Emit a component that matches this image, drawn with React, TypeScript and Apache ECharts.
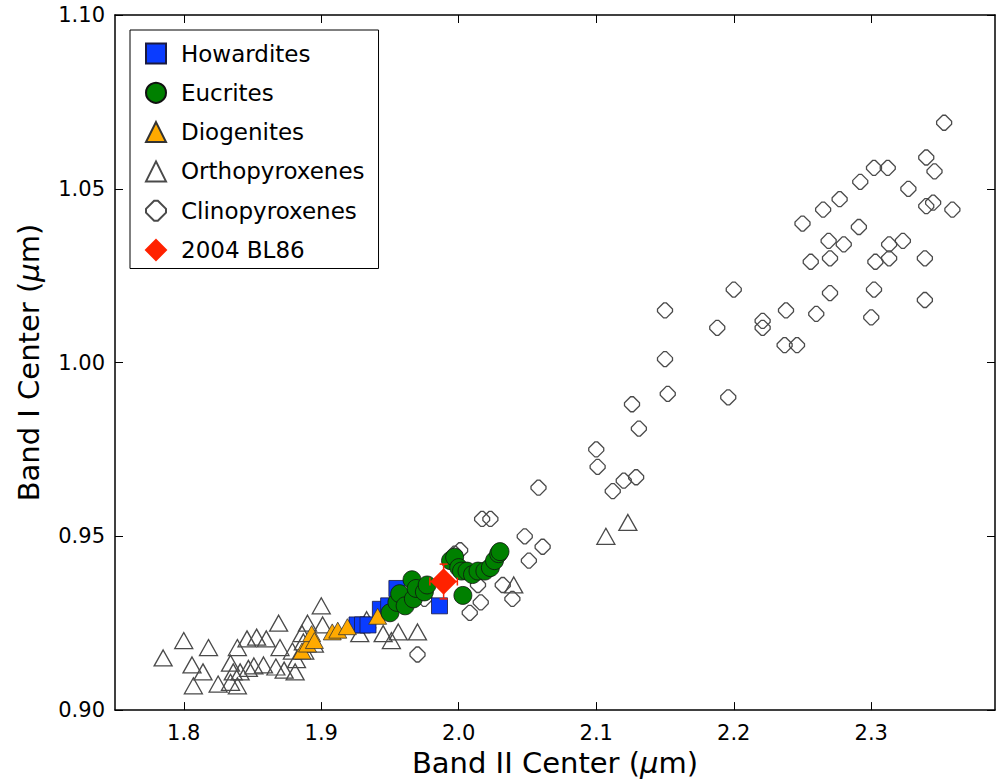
import React, { useEffect, useRef } from "react";
import * as echarts from "echarts";

const X_TICKS = [1.8, 1.9, 2.0, 2.1, 2.2, 2.3];
const Y_TICKS = [0.9, 0.95, 1.0, 1.05, 1.1];

const HOWARDITES: number[][] = [
  [1.926, 0.9245], [1.930, 0.9245], [1.934, 0.9245], [1.943, 0.929],
  [1.949, 0.930], [1.955, 0.935], [1.986, 0.930],
];

const EUCRITES: number[][] = [
  [1.950, 0.928], [1.955, 0.931], [1.957, 0.9335], [1.961, 0.930],
  [1.966, 0.9375], [1.967, 0.932], [1.969, 0.935], [1.975, 0.934],
  [1.977, 0.936], [1.994, 0.943], [1.997, 0.944], [2.000, 0.941],
  [2.002, 0.940], [2.003, 0.933], [2.006, 0.940], [2.010, 0.939],
  [2.014, 0.940], [2.019, 0.940], [2.023, 0.941], [2.026, 0.943],
  [2.029, 0.945], [2.030, 0.9456],
];

const DIOGENITES: number[][] = [
  [1.886, 0.917], [1.890, 0.919], [1.893, 0.922], [1.895, 0.920],
  [1.908, 0.9225], [1.912, 0.923], [1.919, 0.924], [1.941, 0.927],
];

const ORTHOPYROXENES: number[][] = [
  [1.785, 0.915], [1.800, 0.920], [1.806, 0.913], [1.807, 0.907],
  [1.814, 0.911], [1.818, 0.918], [1.825, 0.9075], [1.834, 0.9135],
  [1.836, 0.911], [1.834, 0.908], [1.839, 0.918], [1.839, 0.907],
  [1.841, 0.911], [1.846, 0.9205], [1.853, 0.921], [1.860, 0.9205],
  [1.847, 0.912], [1.851, 0.9127], [1.858, 0.913], [1.869, 0.925],
  [1.870, 0.918], [1.867, 0.9124], [1.873, 0.9115], [1.881, 0.911],
  [1.879, 0.917], [1.887, 0.9196], [1.890, 0.925], [1.900, 0.930],
  [1.901, 0.9245], [1.882, 0.9145], [1.888, 0.917], [1.895, 0.919],
  [1.886, 0.922], [1.928, 0.922], [1.933, 0.926], [1.945, 0.922],
  [1.951, 0.920], [1.956, 0.9225], [1.970, 0.9225], [2.040, 0.936],
  [2.107, 0.950], [2.123, 0.954],
];

const CLINOPYROXENES: number[][] = [
  [1.970, 0.916], [1.975, 0.932], [1.997, 0.945], [2.001, 0.946],
  [2.008, 0.928], [2.014, 0.936], [2.016, 0.931], [2.017, 0.955],
  [2.023, 0.955], [2.032, 0.936], [2.039, 0.932], [2.048, 0.950],
  [2.051, 0.943], [2.061, 0.947], [2.058, 0.964], [2.100, 0.975],
  [2.101, 0.970], [2.112, 0.963], [2.120, 0.966], [2.129, 0.967],
  [2.126, 0.988], [2.131, 0.981], [2.150, 1.015], [2.150, 1.001],
  [2.152, 0.991], [2.188, 1.010], [2.196, 0.990], [2.200, 1.021],
  [2.221, 1.012], [2.221, 1.010], [2.238, 1.015], [2.237, 1.005],
  [2.246, 1.005], [2.260, 1.014], [2.270, 1.020], [2.300, 1.013],
  [2.302, 1.021], [2.339, 1.018], [2.256, 1.029], [2.270, 1.030],
  [2.303, 1.029], [2.313, 1.030], [2.339, 1.030], [2.269, 1.035],
  [2.280, 1.034], [2.313, 1.034], [2.323, 1.035], [2.291, 1.039],
  [2.250, 1.040], [2.265, 1.044], [2.277, 1.047], [2.292, 1.052],
  [2.302, 1.056], [2.312, 1.056], [2.327, 1.050], [2.340, 1.045],
  [2.345, 1.046], [2.359, 1.044], [2.340, 1.059], [2.346, 1.055],
  [2.353, 1.069],
];

const BL86: number[][] = [[1.989, 0.937]];
const BL86_ERR: number[][] = [[1.989, 0.937, 0.01, 0.005]];

const BLUNT_DIAMOND =
  "path://M-0.16,-0.85 L0.16,-0.85 L0.85,-0.16 L0.85,0.16 L0.16,0.85 L-0.16,0.85 L-0.85,0.16 L-0.85,-0.16 Z";
const FONT = "DejaVu Sans";

export default function App() {
  const ref = useRef<HTMLDivElement>(null);
  useEffect(() => {
    if (!ref.current) return;
    const chart = echarts.init(ref.current, undefined, { renderer: "svg" });
    const axisLine = { show: true, lineStyle: { color: "#000", width: 1.5 } };
    const tick = { show: true, inside: true, length: 8, lineStyle: { color: "#000", width: 1 } };
    const openStyle = { color: "rgba(255,255,255,0)", borderColor: "#4a4a4a", borderWidth: 1.3, opacity: 1 };
    const nameStyle = {
      fontFamily: FONT, fontSize: 29, color: "#000",
      rich: { mu: { fontFamily: FONT, fontSize: 29, fontStyle: "italic", color: "#000" } },
    };
    chart.setOption({
      animation: false,
      backgroundColor: "#fff",
      grid: { left: 115, top: 15, right: 2, bottom: 70 },
      xAxis: [
        {
          type: "value", min: 1.75, max: 2.39, position: "bottom",
          axisLine, axisTick: { ...tick, customValues: X_TICKS },
          axisLabel: {
            customValues: X_TICKS, formatter: (v: number) => v.toFixed(1),
            fontFamily: FONT, fontSize: 21, color: "#000", margin: 12,
          },
          splitLine: { show: false },
          name: "Band II Center ({mu|μ}m)", nameLocation: "middle", nameGap: 29,
          nameTextStyle: nameStyle,
        },
        {
          type: "value", min: 1.75, max: 2.39, position: "top",
          axisLine, axisTick: { ...tick, customValues: X_TICKS },
          axisLabel: { show: false }, splitLine: { show: false },
        },
      ],
      yAxis: [
        {
          type: "value", min: 0.9, max: 1.1, interval: 0.05, position: "left",
          axisLine, axisTick: tick,
          axisLabel: {
            formatter: (v: number) => v.toFixed(2),
            fontFamily: FONT, fontSize: 21, color: "#000", margin: 10,
          },
          splitLine: { show: false },
          name: "Band I Center ({mu|μ}m)", nameLocation: "middle", nameGap: 72,
          nameTextStyle: nameStyle,
        },
        {
          type: "value", min: 0.9, max: 1.1, interval: 0.05, position: "right",
          axisLine, axisTick: tick, axisLabel: { show: false }, splitLine: { show: false },
        },
      ],
      legend: {
        orient: "vertical", left: 130, top: 30,
        data: ["Howardites", "Eucrites", "Diogenites", "Orthopyroxenes", "Clinopyroxenes", "2004 BL86"],
        itemWidth: 20, itemHeight: 20, itemGap: 16.3,
        padding: [12, 14, 7, 15],
        borderColor: "#000", borderWidth: 1, borderRadius: 0, backgroundColor: "#fff",
        textStyle: { fontFamily: FONT, fontSize: 23, color: "#000", lineHeight: 22, padding: [0, 0, 0, 10] },
      },
      series: [
        {
          name: "Orthopyroxenes", type: "scatter", data: ORTHOPYROXENES,
          symbol: "triangle", symbolSize: [18, 16], symbolKeepAspect: true,
          itemStyle: openStyle, z: 2,
        },
        {
          name: "Clinopyroxenes", type: "scatter", data: CLINOPYROXENES,
          symbol: BLUNT_DIAMOND, symbolSize: 15, symbolKeepAspect: true,
          itemStyle: openStyle, z: 2,
        },
        {
          name: "Howardites", type: "scatter", data: HOWARDITES,
          symbol: "rect", symbolSize: 16, symbolKeepAspect: true,
          itemStyle: { color: "#0a3cff", borderColor: "#1a1a40", borderWidth: 0.8, opacity: 1 }, z: 3,
        },
        {
          name: "Diogenites", type: "scatter", data: DIOGENITES,
          symbol: "triangle", symbolSize: [18, 16], symbolKeepAspect: true,
          itemStyle: { color: "#ffaa00", borderColor: "#333", borderWidth: 0.8, opacity: 1 }, z: 3,
        },
        {
          name: "Eucrites", type: "scatter", data: EUCRITES,
          symbol: "circle", symbolSize: 18, symbolKeepAspect: true,
          itemStyle: { color: "#008000", borderColor: "#111", borderWidth: 0.8, opacity: 1 }, z: 4,
        },
        {
          name: "BL86 error", type: "custom", data: BL86_ERR, z: 5,
          renderItem: (params: any, api: any) => {
            const x = api.value(0), y = api.value(1), ex = api.value(2), ey = api.value(3);
            const l = api.coord([x - ex, y]);
            const r = api.coord([x + ex, y]);
            const t = api.coord([x, y + ey]);
            const b = api.coord([x, y - ey]);
            const style = { stroke: "#ff2200", lineWidth: 1.5 };
            const c = 4;
            return {
              type: "group",
              children: [
                { type: "line", shape: { x1: l[0], y1: l[1], x2: r[0], y2: r[1] }, style },
                { type: "line", shape: { x1: t[0], y1: t[1], x2: b[0], y2: b[1] }, style },
                { type: "line", shape: { x1: l[0], y1: l[1] - c, x2: l[0], y2: l[1] + c }, style },
                { type: "line", shape: { x1: r[0], y1: r[1] - c, x2: r[0], y2: r[1] + c }, style },
                { type: "line", shape: { x1: t[0] - c, y1: t[1], x2: t[0] + c, y2: t[1] }, style },
                { type: "line", shape: { x1: b[0] - c, y1: b[1], x2: b[0] + c, y2: b[1] }, style },
              ],
            };
          },
        },
        {
          name: "2004 BL86", type: "scatter", data: BL86,
          symbol: "diamond", symbolSize: 26, symbolKeepAspect: true,
          itemStyle: { color: "#ff2200", borderColor: "#ff2200", borderWidth: 0.5, opacity: 1 }, z: 6,
        },
      ],
    });
    return () => chart.dispose();
  }, []);
  return (
    <div
      ref={ref}
      style={{ position: "fixed", left: 0, top: 0, width: 997, height: 782, background: "#fff" }}
    />
  );
}
